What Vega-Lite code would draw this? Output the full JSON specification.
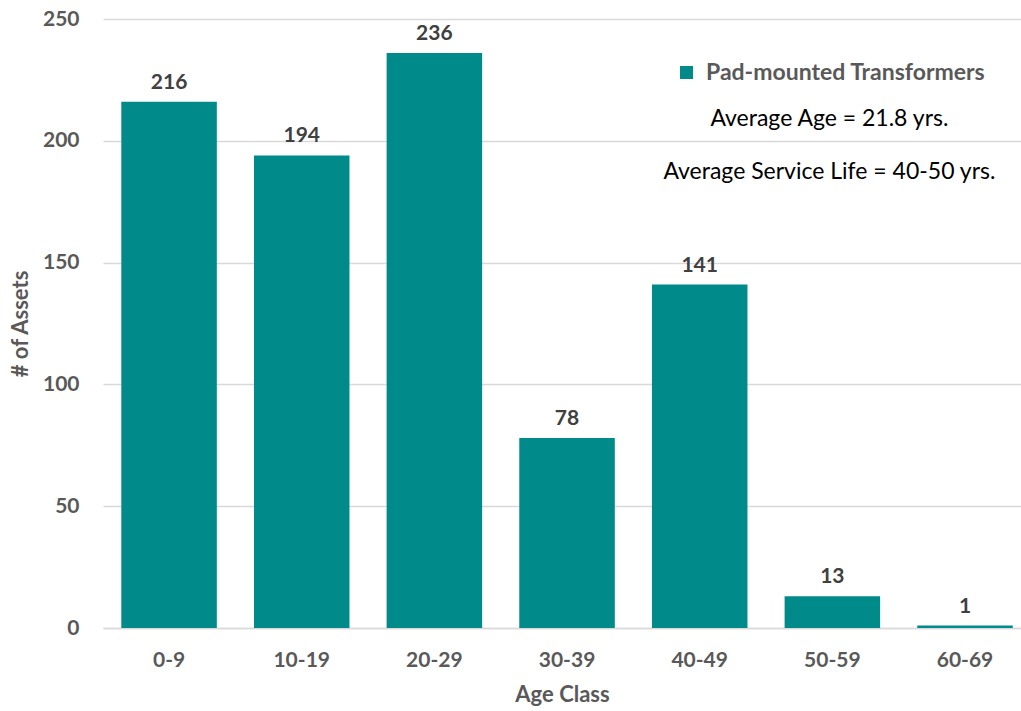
{
  "$schema": "https://vega.github.io/schema/vega-lite/v6.json",
  "autosize": {"type": "none"},
  "padding": {"left": 103, "top": 19, "right": 0, "bottom": 83},
  "width": 918,
  "height": 609,
  "background": "white",
  "config": {
    "view": {"stroke": null},
    "font": "Lato"
  },
  "datasets": {
    "ages": [
      {"age_class": "0-9", "count": 216, "series": "Pad-mounted Transformers"},
      {"age_class": "10-19", "count": 194, "series": "Pad-mounted Transformers"},
      {"age_class": "20-29", "count": 236, "series": "Pad-mounted Transformers"},
      {"age_class": "30-39", "count": 78, "series": "Pad-mounted Transformers"},
      {"age_class": "40-49", "count": 141, "series": "Pad-mounted Transformers"},
      {"age_class": "50-59", "count": 13, "series": "Pad-mounted Transformers"},
      {"age_class": "60-69", "count": 1, "series": "Pad-mounted Transformers"}
    ],
    "notes": [
      {"age_class": "50-59", "value": 209, "note": "Average Age = 21.8 yrs."},
      {"age_class": "50-59", "value": 187, "note": "Average Service Life = 40-50 yrs."}
    ]
  },
  "layer": [
    {
      "data": {"name": "ages"},
      "mark": {"type": "bar", "color": "#008A8A"},
      "encoding": {
        "x": {
          "field": "age_class",
          "type": "ordinal",
          "sort": null,
          "scale": {"paddingInner": 0.28, "paddingOuter": 0.1, "align": 0.69},
          "axis": {
            "title": "Age Class",
            "labelAngle": 0,
            "labelFont": "Lato",
            "labelFontSize": 21,
            "labelFontWeight": "bold",
            "labelColor": "#595959",
            "labelPadding": 21,
            "ticks": false,
            "domainColor": "#D9D9D9",
            "domainWidth": 1.5,
            "titleFont": "Lato",
            "titleFontSize": 22,
            "titleFontWeight": "bold",
            "titleColor": "#595959",
            "titlePadding": 14
          }
        },
        "y": {
          "field": "count",
          "type": "quantitative",
          "scale": {"domain": [0, 250], "nice": false},
          "axis": {
            "title": "# of Assets",
            "values": [0, 50, 100, 150, 200, 250],
            "labelFont": "Lato",
            "labelFontSize": 21,
            "labelFontWeight": "bold",
            "labelColor": "#595959",
            "labelPadding": 24,
            "ticks": false,
            "domain": false,
            "gridColor": "#D9D9D9",
            "gridWidth": 1.5,
            "titleFont": "Lato",
            "titleFontSize": 22,
            "titleFontWeight": "bold",
            "titleColor": "#595959",
            "titlePadding": 10
          }
        },
        "color": {
          "field": "series",
          "type": "nominal",
          "scale": {"range": ["#008A8A"]},
          "legend": {
            "title": null,
            "orient": "none",
            "legendX": 572,
            "legendY": 42,
            "symbolType": "square",
            "symbolSize": 169,
            "symbolStrokeWidth": 0,
            "labelFont": "Lato",
            "labelFontSize": 23,
            "labelFontWeight": "bold",
            "labelColor": "#595959",
            "labelOffset": 8,
            "labelLimit": 500
          }
        }
      }
    },
    {
      "data": {"name": "ages"},
      "mark": {"type": "text", "dy": -19, "font": "Lato", "fontSize": 21, "fontWeight": "bold", "color": "#404040"},
      "encoding": {
        "x": {"field": "age_class", "type": "ordinal", "sort": null},
        "y": {"field": "count", "type": "quantitative"},
        "text": {"field": "count", "type": "quantitative"}
      }
    },
    {
      "data": {"name": "notes"},
      "mark": {"type": "text", "font": "Lato", "fontSize": 23, "color": "#000000", "dx": -3},
      "encoding": {
        "x": {"field": "age_class", "type": "ordinal", "sort": null},
        "y": {"field": "value", "type": "quantitative"},
        "text": {"field": "note", "type": "nominal"}
      }
    }
  ]
}
